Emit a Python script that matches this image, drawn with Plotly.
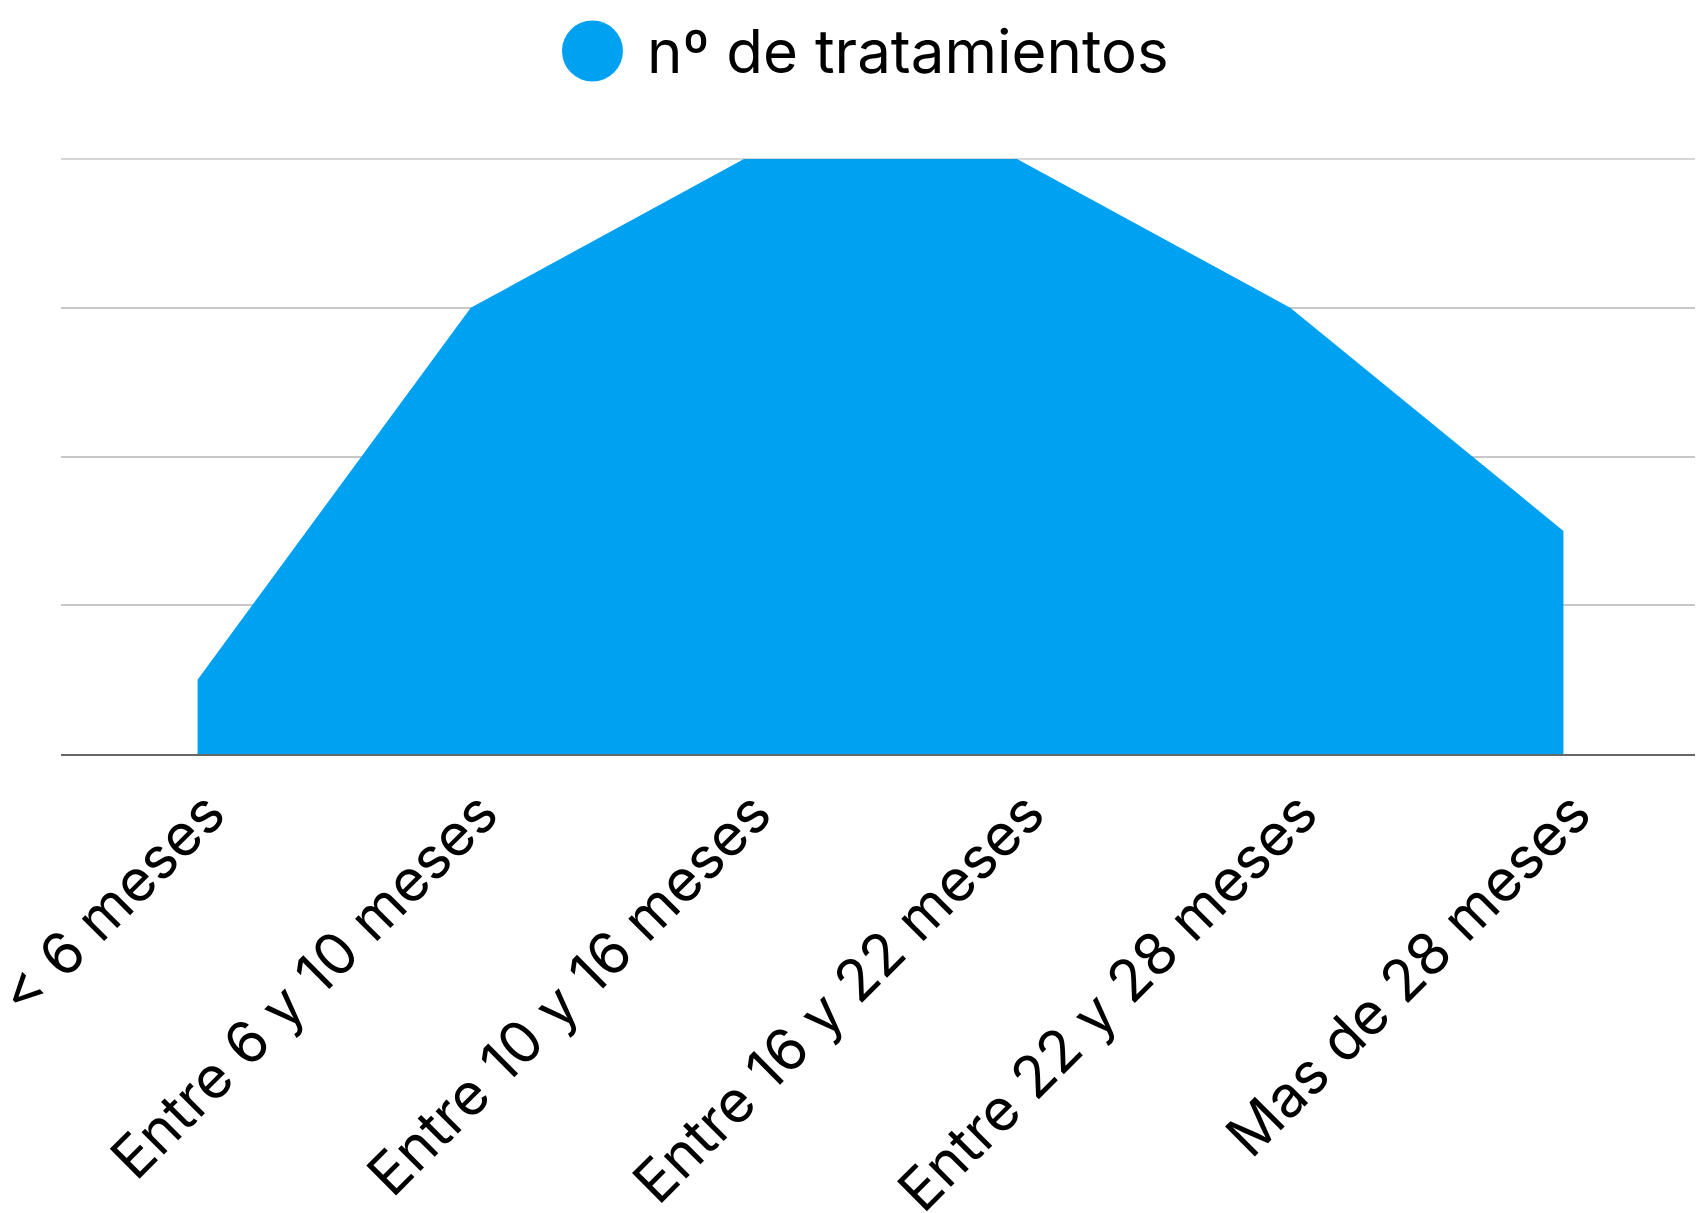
import plotly.graph_objects as go

categories = ["< 6 meses", "Entre 6 y 10 meses", "Entre 10 y 16 meses",
              "Entre 16 y 22 meses", "Entre 22 y 28 meses", "Mas de 28 meses"]
tratamientos = [1, 6, 8, 8, 6, 3]
series_name = "nº de tratamientos"
y_ticks = [0, 2, 4, 6, 8]

BLUE = "#00A1F0"
GRID = "#C8C8C8"
FONT = "Inter"

# page body has an 8px margin, so the figure is drawn 8px in from the top-left
OFF = 8
W, H = 1703 - OFF, 1213 - OFF
ml, mr, mt, mb = 60.5 - OFF, W - (1699.6 - OFF), 159 - OFF, H - (754 - OFF)

fig = go.Figure()
fig.add_trace(go.Scatter(
    x=categories, y=tratamientos, mode="lines", fill="tozeroy",
    fillcolor=BLUE, line=dict(width=0, color=BLUE), name=series_name,
    showlegend=False,
))

fig.update_layout(
    width=W, height=H,
    margin=dict(l=ml, r=mr, t=mt, b=mb, autoexpand=False),
    paper_bgcolor="white", plot_bgcolor="white",
    font=dict(family=FONT, color="#000000"),
    xaxis=dict(
        type="category", range=[-0.5, 5.5], tickangle=-45,
        tickfont=dict(size=58, family=FONT, color="#000000"),
        showgrid=False, showline=True, linecolor="#666666", linewidth=2,
        ticks="", automargin=False, ticklabelshift=10,
    ),
    yaxis=dict(
        range=[y_ticks[0], y_ticks[-1]], tickvals=y_ticks, showticklabels=False,
        showgrid=True, gridcolor=GRID, gridwidth=1.5,
        zeroline=False, showline=False, automargin=False,
    ),
    showlegend=False,
)

# top gridline at the top of the y range (plotly drops the grid line on the edge)
fig.add_shape(type="line", xref="paper", yref="paper", x0=0, x1=1,
              y0=1, y1=1, layer="below",
              line=dict(color=GRID, width=1.5))

# legend replica (page pixel positions converted to paper coords)
pw, ph = W - ml - mr, H - mt - mb
def px_to_paper(xp, yp):
    return (xp - OFF - ml) / pw, (H - mb - (yp - OFF)) / ph

cx, cy = px_to_paper(592, 51)
fig.add_shape(type="circle", xref="paper", yref="paper",
              xsizemode="pixel", ysizemode="pixel",
              xanchor=cx, yanchor=cy,
              x0=-30.5, x1=30.5, y0=-30.5, y1=30.5,
              fillcolor=BLUE, line=dict(width=0))
tx, ty = px_to_paper(645, 51)
fig.add_annotation(xref="paper", yref="paper", x=tx, y=ty,
                   xanchor="left", yanchor="middle",
                   text=series_name, showarrow=False,
                   font=dict(size=60, family=FONT, color="#000000"))

fig.write_html("out.html")
